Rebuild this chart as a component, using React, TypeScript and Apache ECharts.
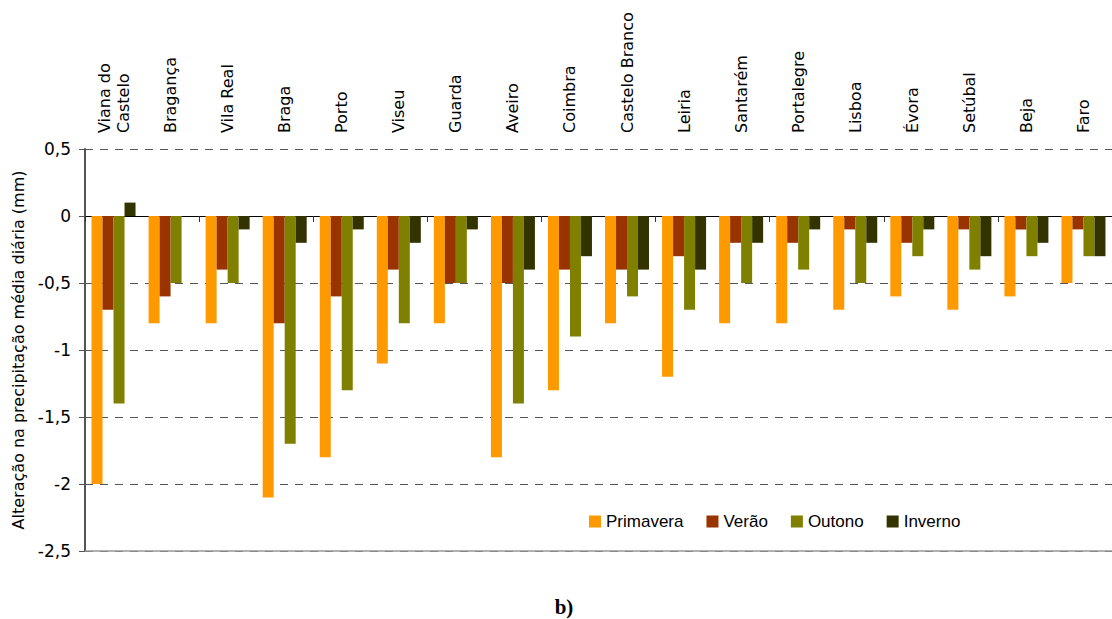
import React, { useEffect, useRef } from "react";
import * as echarts from "echarts";

const categories = [
  "Viana do\nCastelo", "Bragança", "Vila Real", "Braga", "Porto", "Viseu", "Guarda", "Aveiro",
  "Coimbra", "Castelo Branco", "Leiria", "Santarém", "Portalegre", "Lisboa", "Évora",
  "Setúbal", "Beja", "Faro",
];
const primavera = [-2.0, -0.8, -0.8, -2.1, -1.8, -1.1, -0.8, -1.8, -1.3, -0.8, -1.2, -0.8, -0.8, -0.7, -0.6, -0.7, -0.6, -0.5];
const verao = [-0.7, -0.6, -0.4, -0.8, -0.6, -0.4, -0.5, -0.5, -0.4, -0.4, -0.3, -0.2, -0.2, -0.1, -0.2, -0.1, -0.1, -0.1];
const outono = [-1.4, -0.5, -0.5, -1.7, -1.3, -0.8, -0.5, -1.4, -0.9, -0.6, -0.7, -0.5, -0.4, -0.5, -0.3, -0.4, -0.3, -0.3];
const inverno = [0.1, 0, -0.1, -0.2, -0.1, -0.2, -0.1, -0.4, -0.3, -0.4, -0.4, -0.2, -0.1, -0.2, -0.1, -0.3, -0.2, -0.3];
const seriesNames = ["Primavera", "Verão", "Outono", "Inverno"];
const seriesColors = ["#FF9900", "#993300", "#808000", "#333300"];

export default function App() {
  const ref = useRef<HTMLDivElement>(null);
  useEffect(() => {
    if (!ref.current) return;
    const chart = echarts.init(ref.current, undefined, { renderer: "svg" });
    const values = [primavera, verao, outono, inverno];
    chart.setOption({
      animation: false,
      backgroundColor: "#fff",
      grid: { left: 85, top: 149, bottom: 68, right: -10 },
      legend: {
        data: seriesNames,
        left: 589,
        top: 513,
        padding: 0,
        icon: "rect",
        itemWidth: 12,
        itemHeight: 12,
        itemGap: 23,
        textStyle: { fontFamily: "Liberation Sans", fontSize: 17, color: "#000" },
      },
      xAxis: [
        {
          type: "category",
          data: categories,
          position: "top",
          axisLine: { show: false, onZero: false },
          axisTick: { show: false },
          axisLabel: {
            rotate: -90,
            margin: 16,
            interval: 0,
            fontFamily: "DejaVu Sans",
            fontSize: 16,
            color: "#000",
            lineHeight: 19,
          },
        },
        {
          type: "category",
          data: categories,
          position: "bottom",
          axisLine: { show: true, onZero: true, lineStyle: { color: "#000", width: 1 } },
          axisTick: { show: true, length: 6, lineStyle: { color: "#333" } },
          axisLabel: { show: false },
        },
      ],
      yAxis: {
        type: "value",
        min: -2.5,
        max: 0.5,
        interval: 0.5,
        name: "Alteração na precipitação média diária (mm)",
        nameLocation: "middle",
        nameGap: 57,
        nameTextStyle: { fontFamily: "DejaVu Sans", fontSize: 16, color: "#000" },
        axisLine: { show: true, lineStyle: { color: "#555", width: 2 } },
        axisTick: { show: true, length: 6, lineStyle: { color: "#555" } },
        axisLabel: {
          fontFamily: "DejaVu Sans",
          fontSize: 17,
          color: "#000",
          margin: 14,
          formatter: (v: number) => String(v).replace(".", ","),
        },
        splitLine: { show: true, lineStyle: { color: "#555", type: [8, 7], width: 1 } },
      },
      series: seriesNames.map((name, i) => ({
        name,
        type: "bar",
        data: values[i],
        barWidth: 11,
        barGap: "0%",
        itemStyle: { color: seriesColors[i] },
        ...(i === 0
          ? {
              markLine: {
                silent: true,
                symbol: "none",
                label: { show: false },
                lineStyle: { color: "#999", type: "solid", width: 1.5 },
                data: [{ yAxis: -2.5 }],
              },
            }
          : {}),
      })),
      graphic: [
        {
          type: "text",
          x: 564,
          y: 607,
          style: {
            text: "b)",
            fontFamily: "Liberation Serif",
            fontWeight: "bold",
            fontSize: 21,
            fill: "#000",
            textAlign: "center",
            textVerticalAlign: "middle",
          },
        },
      ],
    });
    return () => chart.dispose();
  }, []);
  return (
    <div
      ref={ref}
      style={{ position: "fixed", left: 0, top: 0, width: 1112, height: 619 }}
    />
  );
}
